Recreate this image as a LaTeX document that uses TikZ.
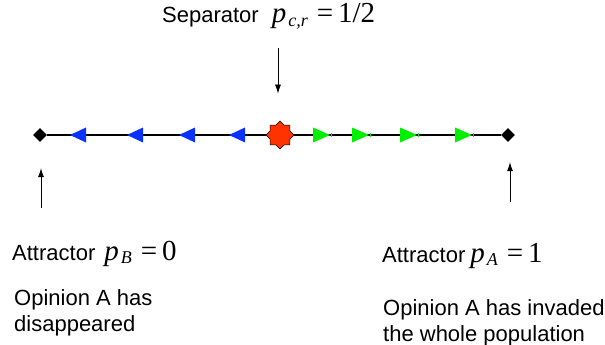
\documentclass[tikz,border=0pt]{standalone}
\usepackage{fontspec}
\setmainfont{Liberation Sans}
\newfontfamily\tms{Liberation Serif}
\usetikzlibrary{shapes.geometric,arrows.meta}
\definecolor{flowblue}{RGB}{10,50,255}
\definecolor{flowgreen}{RGB}{0,240,0}
\definecolor{sepred}{RGB}{255,51,0}
\newcommand\mth[1]{{\tms\fontsize{29}{29}\selectfont #1}}
\newcommand\subs[1]{\hspace{2pt}\raisebox{-0.3ex}{\fontsize{18}{18}\selectfont\itshape #1}}
\newcommand\eqs{\upshape\hspace{9pt}=\hspace{5pt}}
\begin{document}
\begin{tikzpicture}[x=1pt,y=-1pt,
  lbl/.style={anchor=base west,inner sep=0pt,font=\fontsize{22}{26}\selectfont},
  para/.style={anchor=north west,inner sep=0pt,align=left,font=\fontsize{22}{26}\selectfont},
  endpt/.style={diamond,fill=black,inner sep=0pt,minimum size=14pt},
  sepstar/.style={star,star points=8,star point ratio=1.3,fill=sepred,draw=black,line width=0.6pt,inner sep=0pt,minimum size=28pt},
  axis/.style={line width=2pt,black},
  pointer/.style={line width=0.8pt,-{Latex[length=9pt,width=6pt]}},
  blueflow/.style={fill=flowblue},
  greenflow/.style={fill=flowgreen}]
\useasboundingbox (0,0) rectangle (605,345);

\node[endpt] (L) at (40,135) {};
\node[endpt] (R) at (508,135) {};
\node[sepstar] (S) at (280,135) {};

\draw[axis] (L) -- (S);
\draw[axis] (S) -- (R);

\foreach \t in {70,127,179,229}
  \fill[blueflow] (\t,135) -- (\t+16,127.5) -- (\t+16,142.5) -- cycle;
\foreach \b in {313,352,400,455}{
  \fill[greenflow] (\b+17,135) -- (\b,127.5) -- (\b,142.5) -- cycle;
  \draw[flowgreen,line width=0.8pt] (\b+18,133) -- (\b+18,137);
}

\coordinate (sepTop) at (278,48);
\coordinate (lTail) at (41,208);
\coordinate (rTail) at (510,202);
\draw[pointer,shorten >=27pt] (sepTop) -- (S.north -| sepTop);
\draw[pointer,shorten >=26pt] (lTail) -- (L.south -| lTail);
\draw[pointer,shorten >=20pt] (rTail) -- (R.south -| rTail);

\node[lbl] (septxt) at (162,23) {Separator\hspace{13pt}\mth{\itshape p\subs{c,r}\eqs 1/2}};
\node[lbl] (attB) at (12,260) {Attractor\hspace{9pt}\mth{\itshape p\subs{B}\eqs 0}};
\node[lbl] (attA) at (382,262) {Attractor\hspace{5pt}\mth{\itshape p\subs{A}\eqs 1}};
\node[para] (opB) at (14,289) {Opinion A has\\disappeared};
\node[para] (opA) at (383,299) {Opinion A has invaded\\the whole population};
\end{tikzpicture}
\end{document}
